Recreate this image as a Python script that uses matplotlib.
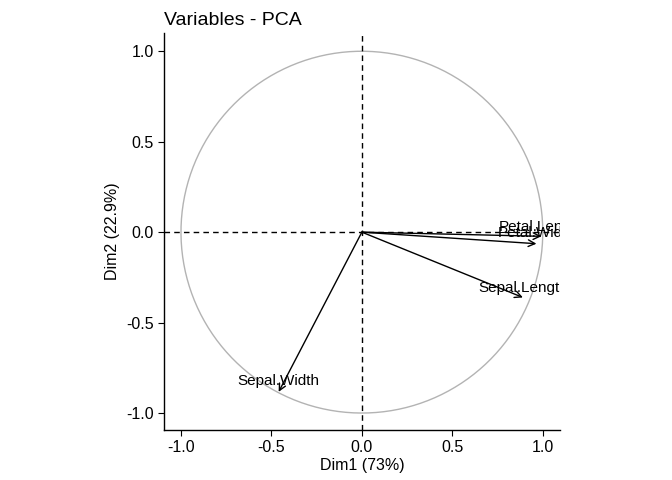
import numpy as np
import matplotlib.pyplot as plt

plt.rcParams['font.family'] = ['Liberation Sans', 'DejaVu Sans']

# variable coordinates (Dim1, Dim2)
variables = ["Sepal.Length", "Sepal.Width", "Petal.Length", "Petal.Width"]
dim1 = [0.890, -0.460, 0.992, 0.965]
dim2 = [-0.361, -0.883, -0.023, -0.064]
label_dy = [0.05, 0.06, 0.05, 0.06]

fig = plt.figure(figsize=(6.72, 4.8), dpi=100)
ax = fig.add_axes([0.244, 0.104, 0.589, 0.827])

# correlation circle
t = np.linspace(0, 2 * np.pi, 300)
ax.plot(np.cos(t), np.sin(t), color="#b3b3b3", lw=1.0)

ax.axhline(0, color="black", ls=(0, (4, 3)), lw=1.0)
ax.axvline(0, color="black", ls=(0, (4, 3)), lw=1.0)

for name, x, y, dy in zip(variables, dim1, dim2, label_dy):
    ax.annotate("", xy=(x, y), xytext=(0, 0),
                arrowprops=dict(arrowstyle="->", color="black", lw=1.0,
                                shrinkA=0, shrinkB=0, mutation_scale=12))
    txt = ax.text(x, y + dy, name, ha="center", va="center", fontsize=11)
    txt.set_clip_on(True)

ax.set_xlim(-1.094, 1.094)
ax.set_ylim(-1.094, 1.1)
ax.set_aspect("equal", adjustable="box")
ax.set_xticks([-1.0, -0.5, 0.0, 0.5, 1.0])
ax.set_yticks([-1.0, -0.5, 0.0, 0.5, 1.0])
ax.set_xticklabels(["-1.0", "-0.5", "0.0", "0.5", "1.0"])
ax.set_yticklabels(["-1.0", "-0.5", "0.0", "0.5", "1.0"])
ax.tick_params(labelsize=11.5, colors="black", length=4, width=0.8)

for side in ["top", "right"]:
    ax.spines[side].set_visible(False)
for side in ["left", "bottom"]:
    ax.spines[side].set_linewidth(1.0)

ax.set_xlabel("Dim1 (73%)", fontsize=11.5, labelpad=2)
ax.set_ylabel("Dim2 (22.9%)", fontsize=11.5, labelpad=4)
ax.set_title("Variables - PCA", fontsize=14, loc="left", pad=6)

fig.savefig("out.png", dpi=100)
